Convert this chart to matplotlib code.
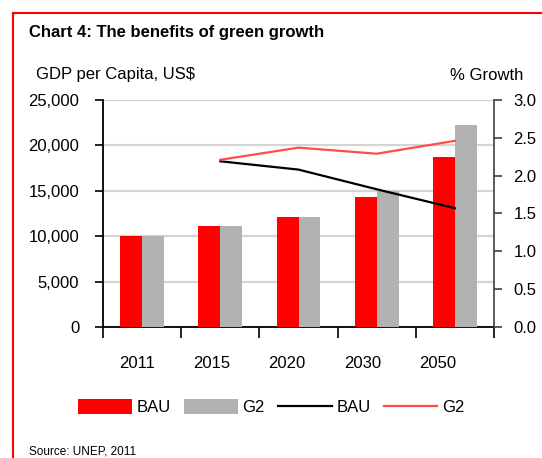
import matplotlib
matplotlib.use('Agg')
import matplotlib.pyplot as plt
import numpy as np
from matplotlib.patches import Patch
from matplotlib.lines import Line2D

plt.rcParams['font.family'] = ['Liberation Sans', 'DejaVu Sans']

# 数据
years = ['2011', '2015', '2020', '2030', '2050']
gdp_bau = [10000, 11100, 12100, 14300, 18700]
gdp_g2 = [10000, 11100, 12100, 15000, 22200]
growth_years = ['2015', '2020', '2030', '2050']
growth_bau = [2.19, 2.08, 1.82, 1.57]
growth_g2 = [2.21, 2.37, 2.29, 2.46]

red = '#FF0000'
grey = '#B2B2B2'
line_red = '#FF4C4C'

fig = plt.figure(figsize=(5.42, 4.58), dpi=100)
ax = fig.add_axes([0.190, 0.286, 0.7215, 0.4957])

x = np.arange(len(years))
w = 0.28
ax.bar(x - w / 2, gdp_bau, width=w, color=red, zorder=3)
ax.bar(x + w / 2, gdp_g2, width=w, color=grey, zorder=3)

ax.set_xlim(-0.5, len(years) - 0.5)
ax.set_ylim(0, 25000)
ax.set_yticks(np.arange(0, 25001, 5000))
ax.set_yticklabels(['{:,}'.format(v) for v in range(0, 25001, 5000)], fontsize=12)
ax.yaxis.grid(True, color='#D4D4D4', linewidth=1.6, zorder=0)
ax.set_axisbelow(True)

# x 轴：边界处画刻度，标签单独放
ax.set_xticks(np.arange(len(years) + 1) - 0.5, minor=True)
ax.set_xticks(-0.065 + 0.96 * x)
ax.set_xticklabels(years, fontsize=12)
ax.tick_params(axis='x', which='major', length=0, pad=21)
ax.tick_params(axis='x', which='minor', length=8, width=1.2, direction='out')
ax.tick_params(axis='y', length=6, width=1.2, pad=11)

for s in ['top', 'right']:
    ax.spines[s].set_visible(False)
ax.spines['left'].set_linewidth(1.3)
ax.spines['bottom'].set_linewidth(1.3)

# 右轴：增长率
ax2 = ax.twinx()
gx = [years.index(y) for y in growth_years]
ax2.plot(gx, growth_bau, color='black', linewidth=1.6, zorder=4)
ax2.plot(gx, growth_g2, color=line_red, linewidth=1.6, zorder=4)
ax2.set_ylim(0, 3.0)
ax2.set_yticks(np.arange(0, 3.01, 0.5))
ax2.set_yticklabels(['{:.1f}'.format(v) for v in np.arange(0, 3.01, 0.5)], fontsize=12)
ax2.tick_params(axis='y', length=6, width=1.2, pad=8, color='#404040')
for s in ['top', 'left', 'bottom']:
    ax2.spines[s].set_visible(False)
ax2.spines['right'].set_color('#404040')
ax2.spines['right'].set_linewidth(1.2)

# 文字
fig.text(29 / 542, 1 - 33 / 458, 'Chart 4: The benefits of green growth',
         fontsize=12, fontweight='bold', va='center', ha='left')
fig.text(36 / 542, 1 - 75 / 458, 'GDP per Capita, US$', fontsize=12,
         va='center', ha='left')
fig.text(523 / 542, 1 - 75 / 458, '% Growth', fontsize=12,
         va='center', ha='right')
fig.text(29 / 542, 1 - 451 / 458, 'Source: UNEP, 2011', fontsize=8.5,
         va='center', ha='left')

# 图例
handles = [Patch(facecolor=red, edgecolor='none'),
           Patch(facecolor=grey, edgecolor='none'),
           Line2D([], [], color='black', linewidth=1.6),
           Line2D([], [], color=line_red, linewidth=1.6)]
fig.legend(handles, ['BAU', 'G2', 'BAU', 'G2'], ncol=4, loc='center',
           bbox_to_anchor=(0.501, 1 - 407 / 458), frameon=False, fontsize=12,
           handlelength=3.2, handleheight=1.0, handletextpad=0.3,
           columnspacing=0.8, borderaxespad=0)

# 红色边框
fig.add_artist(Line2D([13 / 542, 13 / 542], [0, 1 - 13 / 458],
                      transform=fig.transFigure, color=red, linewidth=1.5))
fig.add_artist(Line2D([13 / 542, 1], [1 - 13 / 458, 1 - 13 / 458],
                      transform=fig.transFigure, color=red, linewidth=1.5))

fig.savefig('out.png', dpi=100)
